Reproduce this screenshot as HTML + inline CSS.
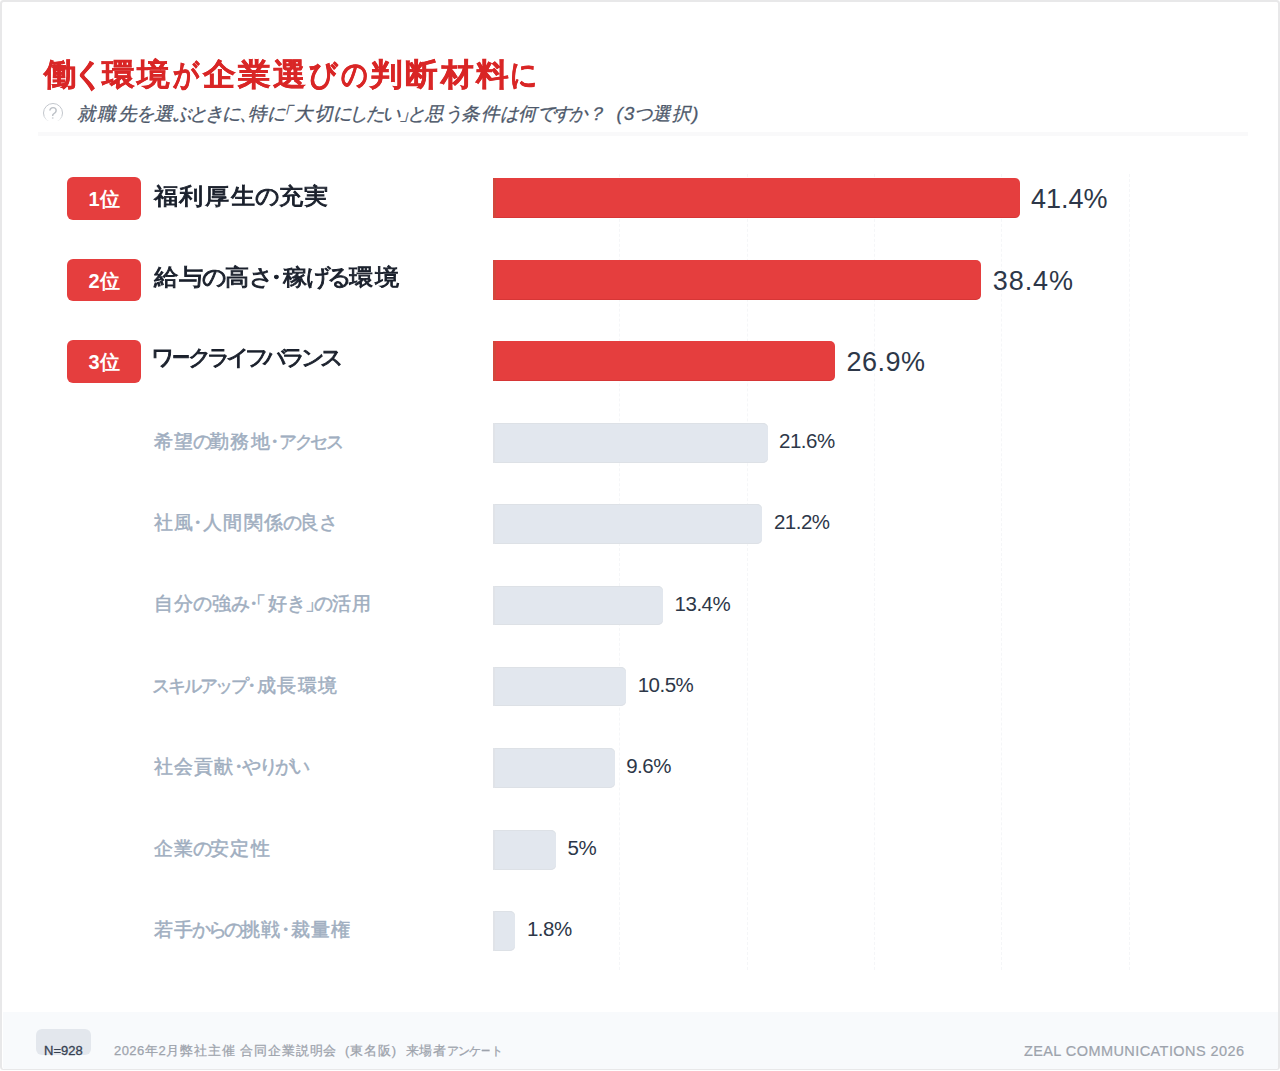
<!DOCTYPE html>
<html lang="ja">
<head>
<meta charset="utf-8">
<title>働く環境が企業選びの判断材料に</title>
<style>
*{box-sizing:border-box;margin:0;padding:0}
html,body{width:1280px;height:1071px;background:#fff;overflow:hidden}
body{font-family:"Liberation Sans",sans-serif;position:relative;color:#1a202c}
.card{position:absolute;left:0;top:0;width:1280px;height:1070px;border:2px solid #e8e8e9;border-bottom-width:1px;border-radius:3.5px;background:#fff;overflow:hidden}
.abs{position:absolute;white-space:nowrap}
span{display:inline-block}
.h{letter-spacing:-0.15em;margin-left:-0.075em;margin-right:0.075em}
.t{font-size:0.95em;vertical-align:0.025em;letter-spacing:-0.2042em;margin-left:-0.1021em;margin-right:0.1021em}
.d{margin-left:-0.3em;margin-right:-0.3em}
.pl{margin-left:-0.6em}
.pr{margin-right:-0.6em}
.title{left:43.6px;top:53px;font-size:33px;line-height:44px;font-weight:700;color:#d92626;letter-spacing:2.2px;-webkit-text-stroke:0.5px #d92626;transform:scaleY(0.95);transform-origin:50% 52%}
.q{left:41px;top:101px;width:24px;height:19.5px;overflow:hidden;-webkit-mask-image:linear-gradient(#000 72%,rgba(0,0,0,0.15));mask-image:linear-gradient(#000 72%,rgba(0,0,0,0.15))}
.qc{position:absolute;left:1.5px;top:1.7px;width:20.8px;height:20.8px;border:1.5px solid #c2c6cc;border-radius:50%}
.qm{position:absolute;left:0;top:3.5px;width:24px;text-align:center;font-size:16px;line-height:18px;color:#bcc0c6}
.sub{left:77px;top:101px;font-size:18.5px;line-height:26px;font-style:italic;color:#4d586a;letter-spacing:1.25px;-webkit-text-stroke:0.3px #4d586a}
.rule{left:38px;top:132px;width:1210px;height:3.5px;background:#f9f9fa}
.grid{top:174px;width:0;height:796px;border-left:1px dashed #f5f6f8}
.badge{left:67px;width:74.3px;height:42.5px;border-radius:6px;background:#e53e3e}
.btxt{left:67px;width:74px;text-align:center;color:#fff;font-weight:700;font-size:20px;line-height:42px}
.lab{left:153.5px;font-size:24px;line-height:40px;font-weight:400;color:#1a202c;letter-spacing:1.5px;-webkit-text-stroke:0.95px #1a202c;transform:scaleY(0.95);transform-origin:50% 50%}
.glab{left:153.5px;font-size:18.5px;line-height:40px;font-weight:400;color:#a0aec0;letter-spacing:1.25px;-webkit-text-stroke:0.5px #a0aec0}
.bar{left:492.5px;border-radius:0 5px 5px 0;background:#e53e3e;border-left:3px solid #d4463c;box-shadow:inset 0 -1px 0 rgba(150,20,20,0.18)}
.gbar{left:492.5px;border-radius:0 5px 5px 0;background:#e2e7ee;border-left:2.5px solid #e0e3e8;box-shadow:inset 0 1px 0 #dde1e6,inset 0 -1px 0 #dde1e6}
.val{font-size:27px;line-height:40px;color:#2d3748}
.gval{font-size:20.5px;line-height:40px;color:#2d3748;letter-spacing:-0.5px}
.foot{left:3px;top:1011.6px;width:1275px;height:57.4px;background:#f8fafc;border-radius:0 0 2px 2px}
.n{left:36px;top:1029px;width:54.5px;height:25.8px;border-radius:6px;background:#e3e7ed}
.ntxt{left:44px;top:1043px;font-size:13px;line-height:16px;color:#364152;-webkit-text-stroke:0.3px #364152}
.src{left:114px;top:1042px;font-size:13px;line-height:18px;color:#9da3ac;letter-spacing:0.9px;-webkit-text-stroke:0.25px #9da3ac}
.src .dg{letter-spacing:0.4px}
.src .po{margin-left:3px}
.src .pc{margin-right:4px}
.sub .po{margin-left:3px}
.brand{right:35.5px;top:1042px;font-size:14.5px;line-height:18px;color:#9da3ac;letter-spacing:0.43px;-webkit-text-stroke:0.2px #9da3ac}
.title,.sub,.lab,.glab,.src,.btxt{font-kerning:none}
.cb{transform:scaleX(0.78)}

</style>
</head>
<body>
<div class="card"></div>
<div class="abs foot"></div>
<div class="abs title" id="title">働<span style="letter-spacing:0;margin-left:-6.70px;margin-right:-4.50px;transform:scaleX(1)">く</span>環境<span style="letter-spacing:0;margin-left:-2.60px;margin-right:-0.40px;transform:scaleX(0.79)">が</span>企業選<span style="letter-spacing:0;margin-left:-1.85px;margin-right:0.35px;transform:scaleX(0.86)">び</span><span style="letter-spacing:0;margin-left:-3.60px;margin-right:-1.40px;transform:scaleX(0.81)">の</span>判断材料<span style="letter-spacing:0;margin-left:-3.60px;margin-right:-1.40px;transform:scaleX(0.82)">に</span></div>
<div class="abs q"><div class="qc"></div><div class="qm" id="qm">?</div></div>
<div class="abs sub" id="sub">就職先<span class="h">を</span>選<span class="h">ぶときに</span><span class="pr">、</span>特<span class="h">に</span><span class="pl">「</span>大切<span class="h">にしたい</span><span class="pr">」</span><span class="h">と</span>思<span class="h">う</span>条件<span class="h">は</span>何<span class="h">ですか</span>？ <span class="po">(</span><span class="dg">3</span><span class="h">つ</span>選択<span class="pc">)</span></div>
<div class="abs rule"></div>
<div class="abs grid" style="left:619.3px"></div>
<div class="abs grid" style="left:746.6px"></div>
<div class="abs grid" style="left:873.9px"></div>
<div class="abs grid" style="left:1001.2px"></div>
<div class="abs grid" style="left:1128.5px"></div>
<div class="abs badge" style="top:177.4px"></div>
<div class="abs btxt" id="b1" style="top:178.0px">1位</div>
<div class="abs lab" id="lab1" style="top:175.8px;letter-spacing:1.9px">福利厚生<span class="h">の</span>充実</div>
<div class="abs bar" style="top:178.3px;width:527.0px;height:40px"></div>
<div class="abs val" id="v1" style="top:179.0px;left:1031.0px">41.4%</div>
<div class="abs badge" style="top:258.9px"></div>
<div class="abs btxt" id="b2" style="top:259.5px">2位</div>
<div class="abs lab" id="lab2" style="top:257.3px">給与<span class="h" style="letter-spacing:-0.18em;margin-left:-0.09em;margin-right:0.09em">の</span>高<span class="h" style="letter-spacing:-0.18em;margin-left:-0.09em;margin-right:0.09em">さ</span><span class="d">・</span>稼<span class="h" style="letter-spacing:-0.18em;margin-left:-0.09em;margin-right:0.09em">げる</span>環境</div>
<div class="abs bar" style="top:259.8px;width:488.8px;height:40px"></div>
<div class="abs val" id="v2" style="top:260.5px;left:992.8px;letter-spacing:0.9px">38.4%</div>
<div class="abs badge" style="top:340.3px"></div>
<div class="abs btxt" id="b3" style="top:340.9px">3位</div>
<div class="abs lab" id="lab3" style="top:337.4px"><span class="t" style="letter-spacing:-0.2228em;margin-left:-0.1114em;margin-right:0.1114em">ワ<span class="cb">ー</span>クライフバランス</span></div>
<div class="abs bar" style="top:341.2px;width:342.4px;height:40px"></div>
<div class="abs val" id="v3" style="top:341.9px;left:846.4px;letter-spacing:0.5px">26.9%</div>
<div class="abs glab" id="g4" style="top:422.0px">希望<span class="h">の</span>勤務地<span class="d">・</span><span class="t" style="letter-spacing:-0.1334em;margin-left:-0.0667em;margin-right:0.0667em">アクセス</span></div>
<div class="abs gbar" style="top:423.2px;width:275.0px;height:39.5px"></div>
<div class="abs gval" id="v4" style="top:421.2px;left:779.0px">21.6%</div>
<div class="abs glab" id="g5" style="top:503.1px">社風<span class="d">・</span>人間関係<span class="h">の</span>良<span class="h">さ</span></div>
<div class="abs gbar" style="top:504.3px;width:269.9px;height:39.5px"></div>
<div class="abs gval" id="v5" style="top:502.3px;left:773.9px">21.2%</div>
<div class="abs glab" id="g6" style="top:584.3px">自分<span class="h" style="letter-spacing:-0.08em;margin-left:-0.04em;margin-right:0.04em">の</span>強<span class="h" style="letter-spacing:-0.08em;margin-left:-0.04em;margin-right:0.04em">み</span><span class="d">・</span><span class="pl">「</span>好<span class="h" style="letter-spacing:-0.08em;margin-left:-0.04em;margin-right:0.04em">き</span><span class="pr">」</span><span class="h" style="letter-spacing:-0.08em;margin-left:-0.04em;margin-right:0.04em">の</span>活用</div>
<div class="abs gbar" style="top:585.5px;width:170.6px;height:39.5px"></div>
<div class="abs gval" id="v6" style="top:583.5px;left:674.6px">13.4%</div>
<div class="abs glab" id="g7" style="top:665.6px"><span class="t" style="letter-spacing:-0.1294em;margin-left:-0.0647em;margin-right:0.0647em">スキルアップ</span><span class="d">・</span>成長環境</div>
<div class="abs gbar" style="top:666.8px;width:133.7px;height:39.5px"></div>
<div class="abs gval" id="v7" style="top:664.8px;left:637.7px">10.5%</div>
<div class="abs glab" id="g8" style="top:747.2px">社会貢献<span class="d">・</span><span class="h">やりがい</span></div>
<div class="abs gbar" style="top:748.4px;width:122.2px;height:39.5px"></div>
<div class="abs gval" id="v8" style="top:746.4px;left:626.2px">9.6%</div>
<div class="abs glab" id="g9" style="top:828.8px">企業<span class="h">の</span>安定性</div>
<div class="abs gbar" style="top:830.0px;width:63.7px;height:39.5px"></div>
<div class="abs gval" id="v9" style="top:828.0px;left:567.6px">5%</div>
<div class="abs glab" id="g10" style="top:910.0px">若手<span class="h" style="letter-spacing:-0.18em;margin-left:-0.09em;margin-right:0.09em">からの</span>挑戦<span class="d">・</span>裁量権</div>
<div class="abs gbar" style="top:911.2px;width:22.9px;height:39.5px"></div>
<div class="abs gval" id="v10" style="top:909.2px;left:526.9px">1.8%</div>
<div class="abs n"></div>
<div class="abs ntxt" id="ntxt">N=928</div>
<div class="abs src" id="src"><span class="dg">2026</span>年<span class="dg">2</span>月弊社主催 合同企業説明会 <span class="po">(</span>東名阪<span class="pc">)</span> 来場者<span class="t" style="letter-spacing:-0.07em;margin-left:-0.035em;margin-right:0.035em">アンケ<span class="cb">ー</span>ト</span></div>
<div class="abs brand" id="brand">ZEAL COMMUNICATIONS 2026</div>
</body>
</html>
